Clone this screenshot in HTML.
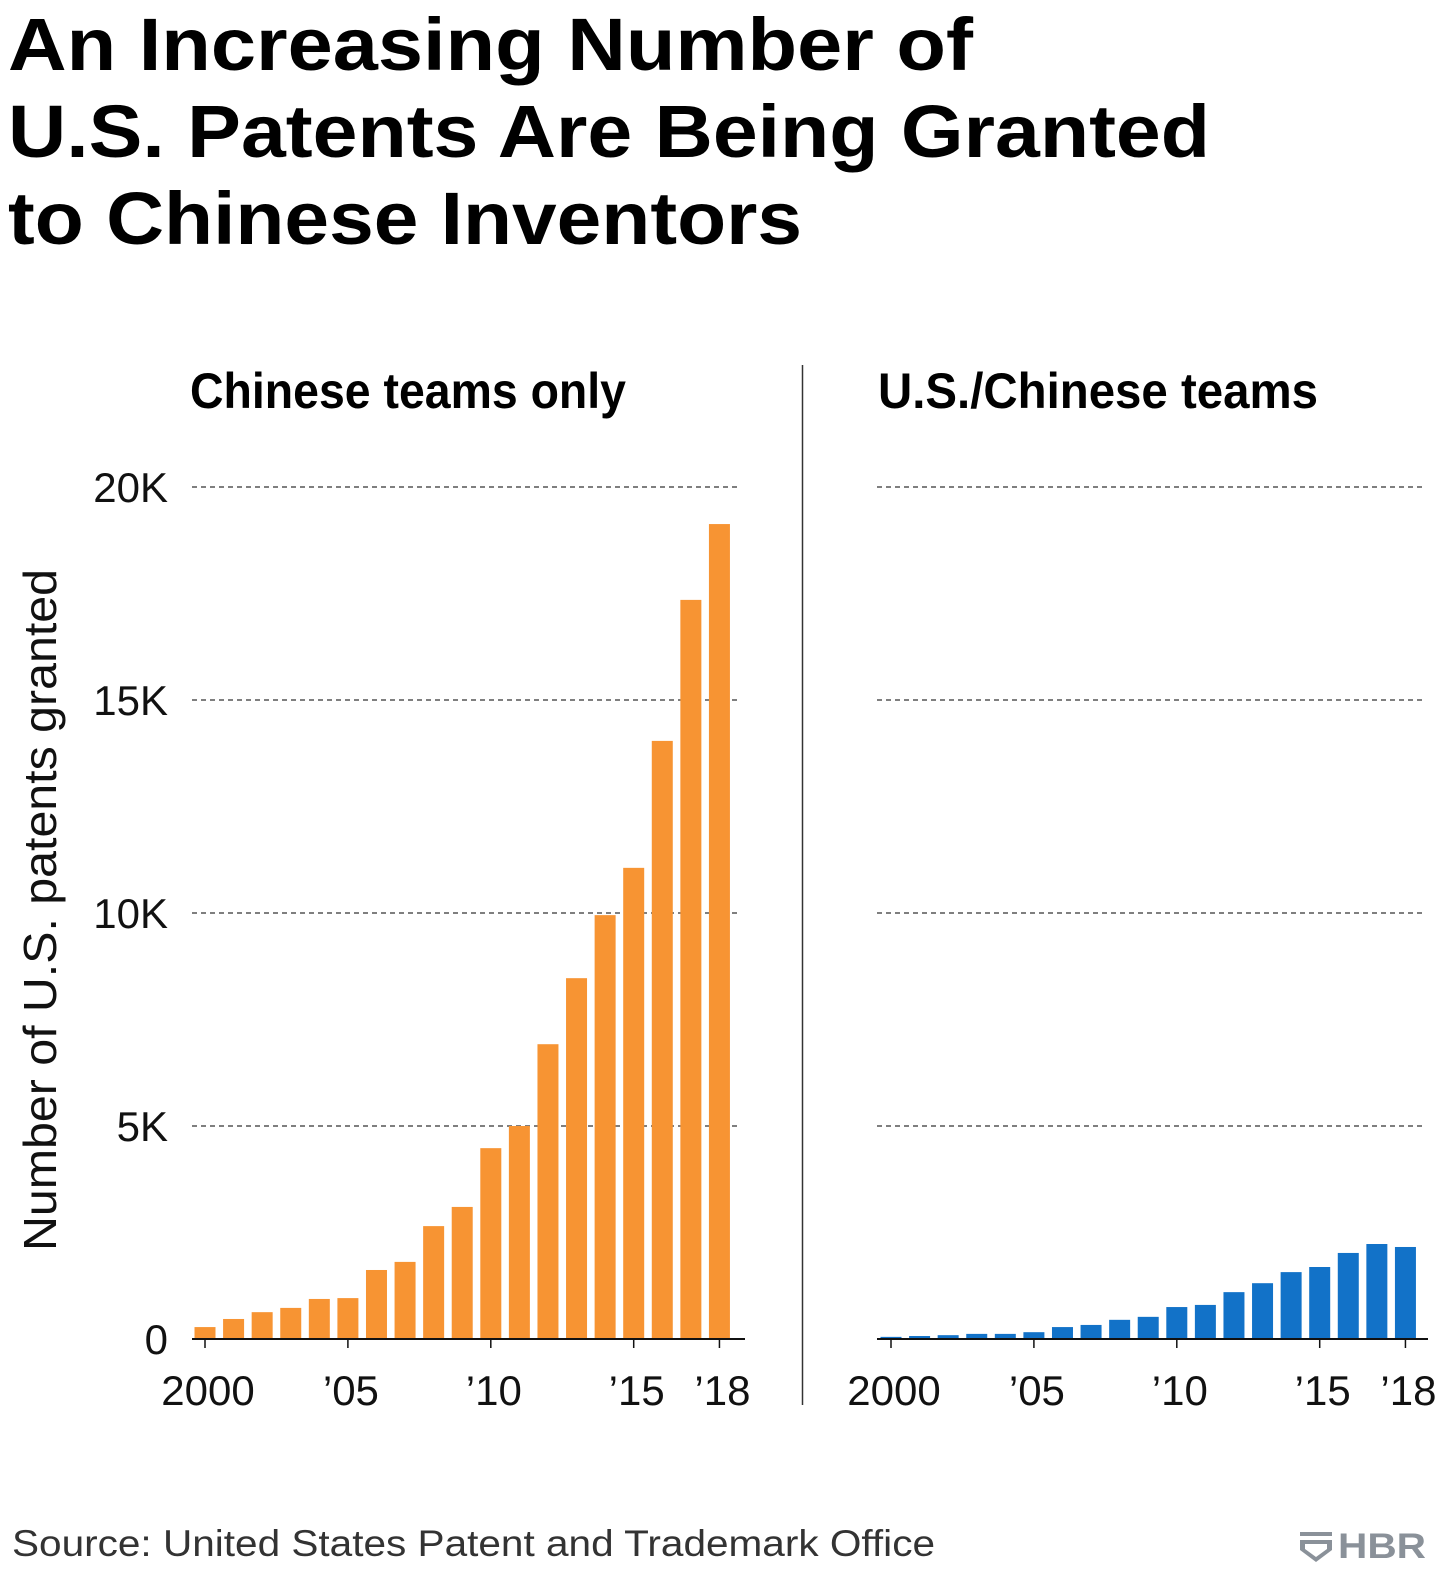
<!DOCTYPE html>
<html><head><meta charset="utf-8"><style>
html,body{margin:0;padding:0;background:#fff}
svg{display:block}
.cond{font-family:"Liberation Sans Narrow","Liberation Sans",sans-serif}
</style></head><body>
<svg id="chart" width="1441" height="1575" viewBox="0 0 1441 1575" xmlns="http://www.w3.org/2000/svg">
<g font-family="Liberation Sans, sans-serif" font-weight="bold" font-size="74" fill="#000">
<text x="8" y="70" textLength="965" lengthAdjust="spacingAndGlyphs">An Increasing Number of</text>
<text x="8" y="157" textLength="1202" lengthAdjust="spacingAndGlyphs">U.S. Patents Are Being Granted</text>
<text x="8" y="244" textLength="794" lengthAdjust="spacingAndGlyphs">to Chinese Inventors</text>
</g>
<text class="cond" x="190" y="408" font-size="50" font-weight="bold" textLength="436" lengthAdjust="spacingAndGlyphs">Chinese teams only</text>
<text class="cond" x="878" y="408" font-size="50" font-weight="bold" textLength="440" lengthAdjust="spacingAndGlyphs">U.S./Chinese teams</text>
<line x1="802.5" y1="365" x2="802.5" y2="1405" stroke="#333" stroke-width="1.5"/>
<text class="cond" transform="translate(56,910) rotate(-90)" text-anchor="middle" font-size="46" fill="#111" textLength="682" lengthAdjust="spacingAndGlyphs">Number of U.S. patents granted</text>
<g id="plot"></g>
<text x="12" y="1556" font-family="Liberation Sans, sans-serif" font-size="37" fill="#333" textLength="923" lengthAdjust="spacingAndGlyphs">Source: United States Patent and Trademark Office</text>
<g fill="#8a9199">
<rect x="1300" y="1532" width="32" height="4"/>
<path d="M1300 1540 h32 v10 l-16 12 l-16 -12 z M1305 1544 v5 l11 8 l11 -8 v-5 z" fill-rule="evenodd"/>
<text x="1338" y="1558" font-family="Liberation Sans, sans-serif" font-weight="bold" font-size="35" textLength="88" lengthAdjust="spacingAndGlyphs">HBR</text>
</g>
</svg>
<script>
const years = [2000,2001,2002,2003,2004,2005,2006,2007,2008,2009,2010,2011,2012,2013,2014,2015,2016,2017,2018];
const chineseOnly = [0.28,0.47,0.63,0.73,0.94,0.96,1.62,1.81,2.65,3.1,4.48,5.0,6.92,8.47,9.95,11.06,14.04,17.35,19.13];
const usChinese = [0.05,0.07,0.09,0.12,0.12,0.16,0.28,0.33,0.45,0.52,0.75,0.8,1.1,1.31,1.57,1.69,2.02,2.23,2.16];
const yTicks = [0,5,10,15,20];
const yTickLabels = ['0','5K','10K','15K','20K'];
const xTicks = [2000,2005,2010,2015,2018];
const xTickLabels = ['2000','\u201905','\u201910','\u201915','\u201918'];

const NS='http://www.w3.org/2000/svg';
const plot=document.getElementById('plot');
function mk(tag,attrs,parent){const e=document.createElementNS(NS,tag);for(const k in attrs)e.setAttribute(k,attrs[k]);(parent||plot).appendChild(e);return e;}
const y=v=>1339-v*42.6;
function panel(x0,gx1,gx2,vals,color,showY,key){
  const x=yr=>x0+(yr-2000)*28.58;
  yTicks.forEach((t,i)=>{
    if(t>0){const l=mk('line',{x1:gx1,x2:gx2,y1:y(t),y2:y(t),stroke:'#333','stroke-width':1.2,'stroke-dasharray':'5,4'});
      
      }
    if(showY){const tx=mk('text',{x:168,y:y(t)+15,'text-anchor':'end','font-size':42,'class':'cond',fill:'#111'});tx.textContent=yTickLabels[i];
      
      }
  });
  vals.forEach((v,i)=>{
    const r=mk('rect',{x:x(years[i])-10.5,y:y(v),width:21,height:y(0)-y(v),fill:color});
    
    
  });
  const ax=mk('line',{x1:gx1,x2:gx2+4,y1:1339,y2:1339,stroke:'#111','stroke-width':2});
  
  
  xTicks.forEach((t,i)=>{
    const tk=mk('line',{x1:x(t),x2:x(t),y1:1339,y2:1348,stroke:'#111','stroke-width':1.5});
    
    
    const tx=mk('text',{x:x(t)+3,y:1405,'text-anchor':'middle','font-size':42,'class':'cond',fill:'#111'});tx.textContent=xTickLabels[i];
    
    
  });
}
panel(205,192,741,chineseOnly,'#f79433',true,'chinese-only');
panel(891,877,1424,usChinese,'#1272c8',false,'us-chinese');
</script>
</body></html>
